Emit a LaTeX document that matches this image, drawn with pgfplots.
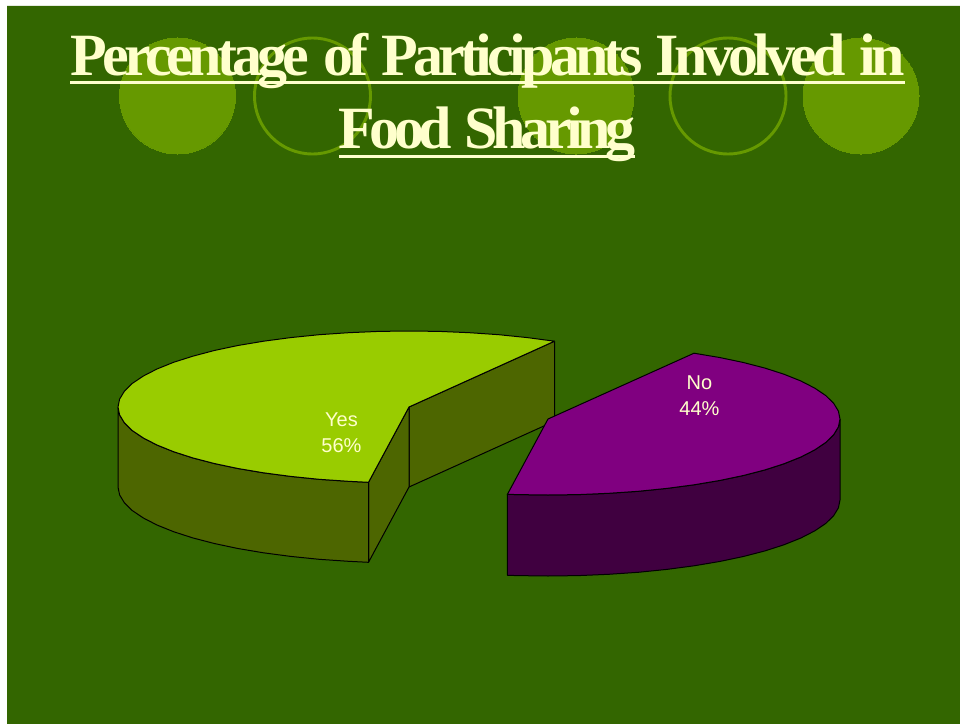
\documentclass[border=0pt]{standalone}
\usepackage{fontspec}
\setmainfont{Liberation Sans}
\newfontfamily\titlefont[LetterSpace=-8,WordSpace=1.33,Ligatures=NoCommon]{Liberation Serif}
\newfontfamily\titlefontb[LetterSpace=-9,WordSpace=1.33,Ligatures=NoCommon]{Liberation Serif}
\usepackage{pgfplots}
\pgfplotsset{compat=1.18}
\definecolor{slidebg}{HTML}{336600}
\definecolor{deco}{HTML}{669900}
\definecolor{cream}{HTML}{FFFFCC}
\definecolor{yestop}{HTML}{99CC00}
\definecolor{yesside}{HTML}{4D6600}
\definecolor{notop}{HTML}{800080}
\definecolor{noside}{HTML}{400040}
\begin{document}
\begin{tikzpicture}
\begin{axis}[
    scale only axis, width=720pt, height=543pt,
    xmin=0, xmax=960, ymin=0, ymax=724, y dir=reverse,
    axis lines=none, clip=false, clip mode=individual,
    every axis plot/.append style={line join=round, line width=0.75pt},
]
% slide
\addplot[fill=white, draw=none] coordinates {(0,0) (960,0) (960,724) (0,724) (0,0)};
\addplot[fill=slidebg, draw=none] coordinates {(7,6) (960,6) (960,724) (7,724) (7,6)};
% decoration
\addplot[only marks, mark=*, mark size=43.5pt, mark options={fill=deco, draw=deco, line width=0pt}]
    coordinates {(177.5,96) (576,96) (861,96)};
\addplot[only marks, mark=o, mark size=43.5pt, mark options={draw=deco, line width=2.2pt}]
    coordinates {(312.5,96) (728,96)};
% title underlines
\addplot[draw=cream, line width=1.9pt] coordinates {(70,82.3) (905,82.3)};
\addplot[draw=cream, line width=1.9pt] coordinates {(339,156.3) (635,156.3)};
% Yes: back wall, cut wall, rim, top
\addplot[fill=yesside, draw=black] coordinates {(409,407) (554.5,341.2) (554.5,421.2) (409,487) (409,407)};
\addplot[fill=yesside, draw=black] coordinates {(368.5,482.3) (409,407) (409,487) (368.5,562.3) (368.5,482.3)};
\addplot[fill=yesside, draw=black] coordinates {
    (118,407) (119.6,414.9) (124.4,422.8) (132.2,430.5) (143.2,437.9) (157,445)
    (173.6,451.7) (192.8,457.9) (214.3,463.5) (237.9,468.5) (263.5,472.8) (290.7,476.4)
    (319.1,479.3) (348.5,481.3) (368.5,482.3)
    (368.5,562.3) (348.5,561.3) (319.1,559.3) (290.7,556.4) (263.5,552.8) (237.9,548.5)
    (214.3,543.5) (192.8,537.9) (173.6,531.7) (157,525) (143.2,517.9) (132.2,510.5)
    (124.4,502.8) (119.6,494.9) (118,487) (118,407)};
\addplot[fill=yestop, draw=black] coordinates {
    (554.5,341.2) (527.3,337.6) (498.9,334.7) (469.5,332.7) (439.4,331.4) (409,331)
    (378.6,331.4) (348.5,332.7) (319.1,334.7) (290.7,337.6) (263.5,341.2) (237.9,345.5)
    (214.3,350.5) (192.8,356.2) (173.6,362.3) (157,369) (143.2,376.1) (132.2,383.5)
    (124.4,391.2) (119.6,399.1) (118,407) (119.6,414.9) (124.4,422.8) (132.2,430.5)
    (143.2,437.9) (157,445) (173.6,451.7) (192.8,457.9) (214.3,463.5) (237.9,468.5)
    (263.5,472.8) (290.7,476.4) (319.1,479.3) (348.5,481.3) (368.5,482.3)
    (409,407) (554.5,341.2)};
% No: rim, top
\addplot[fill=noside, draw=black] coordinates {
    (840,419) (838.4,426.9) (833.6,434.8) (825.7,442.5) (814.7,449.9) (800.9,457)
    (784.2,463.7) (765,469.9) (743.4,475.5) (719.6,480.5) (694,484.8) (666.8,488.4)
    (638.2,491.3) (608.7,493.3) (578.5,494.6) (548,495) (517.5,494.6) (507.4,494.3)
    (507.4,575.3) (517.5,575.6) (548,576) (578.5,575.6) (608.7,574.3) (638.2,572.3)
    (666.8,569.4) (694,565.8) (719.6,561.5) (743.4,556.5) (765,550.9) (784.2,544.7)
    (800.9,538) (814.7,530.9) (825.7,523.5) (833.6,515.8) (838.4,507.9) (840,500) (840,419)};
\addplot[fill=notop, draw=black] coordinates {
    (548,419) (694,353.2) (719.6,357.5) (743.4,362.5) (765,368.1) (784.2,374.3) (800.9,381)
    (814.7,388.1) (825.7,395.5) (833.6,403.2) (838.4,411.1) (840,419) (838.4,426.9)
    (833.6,434.8) (825.7,442.5) (814.7,449.9) (800.9,457) (784.2,463.7) (765,469.9)
    (743.4,475.5) (719.6,480.5) (694,484.8) (666.8,488.4) (638.2,491.3) (608.7,493.3)
    (578.5,494.6) (548,495) (517.5,494.6) (507.4,494.3) (548,419)};
% text
\node[anchor=base, text=cream, font=\titlefont\fontsize{45}{45}\selectfont\bfseries] at (axis cs:487.5,75) {Percentage of Participants Involved in};
\node[anchor=base, text=cream, font=\titlefontb\fontsize{45}{45}\selectfont\bfseries] at (axis cs:487,148) {Food Sharing};
\node[anchor=base, text=cream, font=\fontsize{15}{15}\selectfont] at (axis cs:341.5,426) {Yes};
\node[anchor=base, text=cream, font=\fontsize{15}{15}\selectfont] at (axis cs:341.5,452) {56\%};
\node[anchor=base, text=cream, font=\fontsize{15}{15}\selectfont] at (axis cs:699.5,389) {No};
\node[anchor=base, text=cream, font=\fontsize{15}{15}\selectfont] at (axis cs:699.5,415.5) {44\%};
\end{axis}
\end{tikzpicture}
\end{document}
